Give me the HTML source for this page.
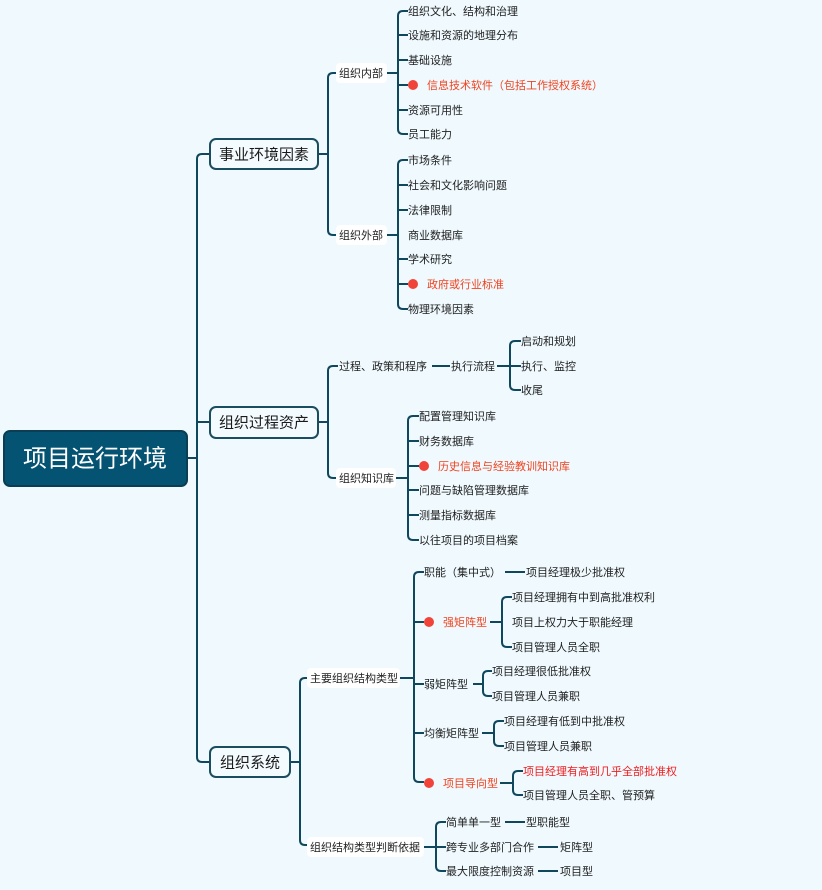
<!DOCTYPE html>
<html><head><meta charset="utf-8"><style>
html,body{margin:0;padding:0;background:#eff9fe;}
svg{display:block;}
text{font-family:"Liberation Sans","Noto Sans CJK SC",sans-serif;font-size:11px;fill:#222;dominant-baseline:central;transform:translateY(1px);}
.r{fill:#f0441f;}
.l1{font-size:15px;fill:#1a1a1a;}
path{fill:none;stroke:#0f475c;stroke-width:2;}
</style></head><body>
<svg width="822" height="890" viewBox="0 0 822 890" xmlns="http://www.w3.org/2000/svg">
<path d="M187,458 H197"/>
<path d="M210,154 H202 Q197,154 197,159 V757 Q197,762 202,762 H210 M197,422 H210"/>
<path d="M318,154 H328 M337,73 H333 Q328,73 328,78 V230 Q328,235 333,235 H337"/>
<path d="M387,73 H398 M408,11 H403 Q398,11 398,16 V129 Q398,134 403,134 H408 M398,35 H408 M398,60 H408 M398,85 H408 M398,110 H408"/>
<path d="M387,235 H398 M408,160 H403 Q398,160 398,165 V304 Q398,309 403,309 H408 M398,185 H408 M398,210 H408 M398,259 H408 M398,284 H408"/>
<path d="M318,422 H328 M338,366 H333 Q328,366 328,371 V473 Q328,478 333,478 H338"/>
<path d="M432,366 H450 M497,366 H510 M521,341 H515 Q510,341 510,346 V385 Q510,390 515,390 H521 M510,366 H521"/>
<path d="M396,478 H408 M419,416 H413 Q408,416 408,421 V535 Q408,540 413,540 H419 M408,441 H419 M408,466 H419 M408,490 H419 M408,515 H419"/>
<path d="M290,762 H300 M309,678 H305 Q300,678 300,683 V840 Q300,845 305,845 H309"/>
<path d="M400,678 H414 M424,572 H419 Q414,572 414,577 V777 Q414,782 419,782 H424 M414,622 H424 M414,684 H424 M414,733 H424"/>
<path d="M505,572 H525"/>
<path d="M490,622 H502 M512,597 H507 Q502,597 502,602 V642 Q502,647 507,647 H512"/>
<path d="M473,684 H483 M492,671 H488 Q483,671 483,676 V691 Q483,696 488,696 H492"/>
<path d="M482,733 H494 M504,721 H499 Q494,721 494,726 V741 Q494,746 499,746 H504"/>
<path d="M500,783 H513 M523,771 H518 Q513,771 513,776 V790 Q513,795 518,795 H523"/>
<path d="M424,847 H436 M446,822 H441 Q436,822 436,827 V866 Q436,871 441,871 H446 M436,847 H446"/>
<path d="M505,822 H525 M538,847 H558 M538,871 H558"/>

<rect x="4" y="431" width="183" height="55" rx="6" fill="#055373" stroke="#0b3e52" stroke-width="2"/>
<text x="95" y="458" text-anchor="middle" style="font-size:24px;fill:#fff">项目运行环境</text>
<rect x="210" y="139" width="108" height="30" rx="6" fill="#f4fbfe" stroke="#1a4d5f" stroke-width="2"/>
<text x="264" y="154" text-anchor="middle" class="l1">事业环境因素</text>
<rect x="210" y="407" width="108" height="31" rx="6" fill="#f4fbfe" stroke="#1a4d5f" stroke-width="2"/>
<text x="264" y="422" text-anchor="middle" class="l1">组织过程资产</text>
<rect x="210" y="747" width="80" height="30" rx="6" fill="#f4fbfe" stroke="#1a4d5f" stroke-width="2"/>
<text x="250" y="762" text-anchor="middle" class="l1">组织系统</text>

<rect x="336" y="63" width="51" height="20" rx="4" fill="#fff"/><text x="339" y="73">组织内部</text>
<rect x="336" y="225" width="51" height="20" rx="4" fill="#fff"/><text x="339" y="235">组织外部</text>
<text x="339" y="366">过程、政策和程序</text>
<text x="451" y="366">执行流程</text>
<rect x="336" y="468" width="60" height="20" rx="4" fill="#fff"/><text x="339" y="478">组织知识库</text>
<rect x="307" y="668" width="93" height="20" rx="4" fill="#fff"/><text x="310" y="678">主要组织结构类型</text>
<rect x="307" y="837" width="117" height="20" rx="4" fill="#fff"/><text x="310" y="847">组织结构类型判断依据</text>

<text x="408" y="11">组织文化、结构和治理</text>
<text x="408" y="35">设施和资源的地理分布</text>
<text x="408" y="60">基础设施</text>
<circle cx="413" cy="85" r="5" fill="#f0443a"/><text x="427" y="85" class="r">信息技术软件（包括工作授权系统）</text>
<text x="408" y="110">资源可用性</text>
<text x="408" y="134">员工能力</text>
<text x="408" y="160">市场条件</text>
<text x="408" y="185">社会和文化影响问题</text>
<text x="408" y="210">法律限制</text>
<text x="408" y="235">商业数据库</text>
<text x="408" y="259">学术研究</text>
<circle cx="413" cy="284" r="5" fill="#f0443a"/><text x="427" y="284" class="r">政府或行业标准</text>
<text x="408" y="309">物理环境因素</text>
<text x="521" y="341">启动和规划</text>
<text x="521" y="366">执行、监控</text>
<text x="521" y="390">收尾</text>
<text x="419" y="416">配置管理知识库</text>
<text x="419" y="441">财务数据库</text>
<circle cx="424" cy="466" r="5" fill="#f0443a"/><text x="438" y="466" class="r">历史信息与经验教训知识库</text>
<text x="419" y="490">问题与缺陷管理数据库</text>
<text x="419" y="515">测量指标数据库</text>
<text x="419" y="540">以往项目的项目档案</text>
<text x="424" y="572">职能（集中式）</text>
<text x="526" y="572">项目经理极少批准权</text>
<circle cx="429" cy="622" r="5" fill="#f0443a"/><text x="443" y="622" class="r">强矩阵型</text>
<text x="512" y="597">项目经理拥有中到高批准权利</text>
<text x="512" y="622">项目上权力大于职能经理</text>
<text x="512" y="647">项目管理人员全职</text>
<text x="424" y="684">弱矩阵型</text>
<text x="492" y="671">项目经理很低批准权</text>
<text x="492" y="696">项目管理人员兼职</text>
<text x="424" y="733">均衡矩阵型</text>
<text x="504" y="721">项目经理有低到中批准权</text>
<text x="504" y="746">项目管理人员兼职</text>
<circle cx="429" cy="783" r="5" fill="#f0443a"/><text x="443" y="783" class="r">项目导向型</text>
<text x="523" y="771" style="fill:#f02020">项目经理有高到几乎全部批准权</text>
<text x="523" y="795">项目管理人员全职、管预算</text>
<text x="446" y="822">简单单一型</text><text x="526" y="822">型职能型</text>
<text x="446" y="847">跨专业多部门合作</text><text x="560" y="847">矩阵型</text>
<text x="446" y="871">最大限度控制资源</text><text x="560" y="871">项目型</text>
</svg>
</body></html>
